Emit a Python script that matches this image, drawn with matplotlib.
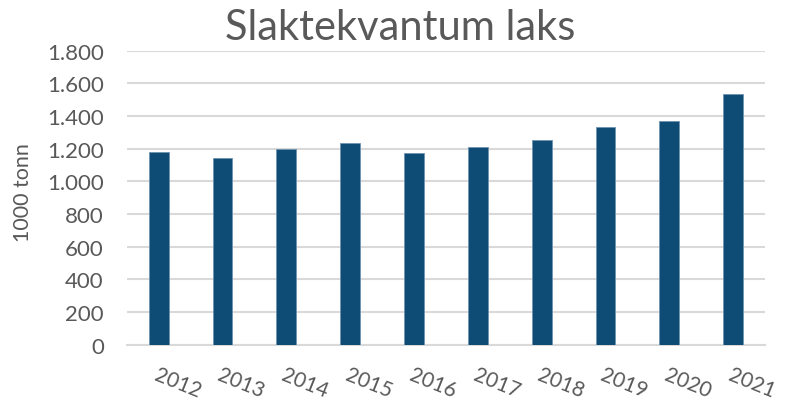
import matplotlib
matplotlib.use("Agg")
from matplotlib import pyplot as plt
import numpy as np

years = ["2012", "2013", "2014", "2015", "2016", "2017", "2018", "2019", "2020", "2021"]
slakt = [1182, 1143, 1198, 1233, 1172, 1208, 1253, 1334, 1368, 1533]
yticks = [0, 200, 400, 600, 800, 1000, 1200, 1400, 1600, 1800]
ytick_labels = ["0", "200", "400", "600", "800", "1.000", "1.200", "1.400", "1.600", "1.800"]

grey = "#595959"
plt.rcParams['font.family'] = ['Lato', 'DejaVu Sans']

fig = plt.figure(figsize=(7.9, 4.02), dpi=100)
ax = fig.add_axes([0.1604, 0.140, 0.808, 0.7314])

x = np.arange(len(years))
ax.bar(x, slakt, width=0.31, color="#0e4c76", edgecolor="#6f93b0", linewidth=0.6, zorder=3)

ax.set_xlim(-0.5, len(years) - 0.5)
ax.set_ylim(0, 1800)
ax.set_yticks(yticks)
ax.set_yticklabels(ytick_labels, fontsize=16, color=grey)
ax.yaxis.grid(True, color="#d9d9d9", linewidth=1.5, zorder=0)
ax.tick_params(axis="y", length=0, pad=16.5)
ax.set_xticks(x)
ax.set_xticklabels(years, fontsize=15, color=grey, rotation=-22,
                   ha="left", va="top", rotation_mode="anchor")
ax.tick_params(axis="x", length=0, pad=14)
for s in ["left", "right", "top"]:
    ax.spines[s].set_visible(False)
ax.spines["bottom"].set_color("#d9d9d9")
ax.spines["bottom"].set_linewidth(1.5)

ax.set_ylabel("1000 tonn", fontsize=15.5, color=grey)
ax.yaxis.set_label_coords(-0.147, 0.52)
fig.text(0.506, 0.93, "Slaktekvantum laks", fontsize=30, color=grey,
         ha="center", va="center")

fig.savefig("out.png", dpi=100)
